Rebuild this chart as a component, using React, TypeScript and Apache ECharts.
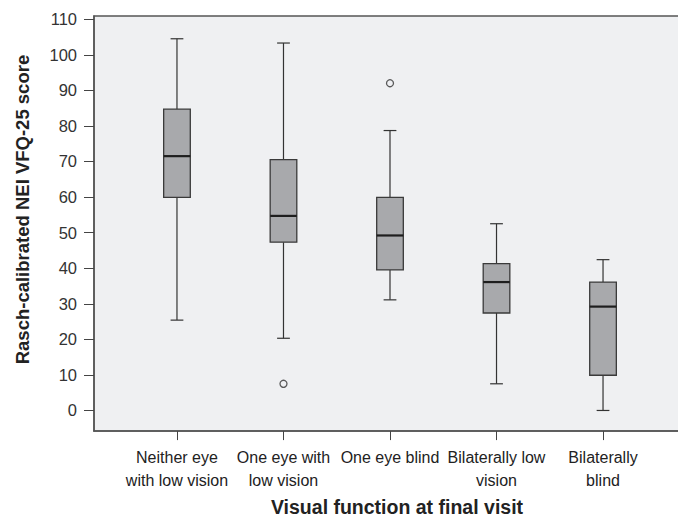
import React, { useEffect, useRef } from "react";
import * as echarts from "echarts";

const categories = [
  "Neither eye\nwith low vision",
  "One eye with\nlow vision",
  "One eye blind",
  "Bilaterally low\nvision",
  "Bilaterally\nblind",
];
const whiskerLow = [25.4, 20.3, 31.1, 7.5, 0.0];
const q1 = [59.9, 47.3, 39.5, 27.4, 9.9];
const median = [71.5, 54.7, 49.2, 36.1, 29.2];
const q3 = [84.7, 70.5, 59.9, 41.3, 36.1];
const whiskerHigh = [104.5, 103.3, 78.7, 52.5, 42.4];
const outliers: [number, number][] = [
  [2, 7.5],
  [3, 92.0],
];
const yTicks = [0, 10, 20, 30, 40, 50, 60, 70, 80, 90, 100, 110];

export default function App() {
  const ref = useRef<HTMLDivElement>(null);
  useEffect(() => {
    if (!ref.current) return;
    const chart = echarts.init(ref.current, undefined, { renderer: "svg" });
    const positions = categories.map((_, i) => i + 1);
    const boxData = positions.map((p, i) => [
      p,
      whiskerLow[i],
      q1[i],
      median[i],
      q3[i],
      whiskerHigh[i],
    ]);
    const font = "'Liberation Sans', Arial, Helvetica, sans-serif";
    chart.setOption({
      animation: false,
      backgroundColor: "#ffffff",
      grid: {
        left: 94,
        top: 16,
        bottom: 90,
        right: -7,
        show: true,
        backgroundColor: "#eff0f2",
        borderColor: "#555555",
        borderWidth: 1.5,
      },
      xAxis: {
        type: "value",
        min: 0.221,
        max: 5.779,
        name: "Visual function at final visit",
        nameLocation: "middle",
        nameGap: 64,
        nameTextStyle: {
          fontFamily: font,
          fontWeight: "bold",
          fontSize: 19.5,
          color: "#222",
          padding: [0, 0, 0, 14],
        },
        splitLine: { show: false },
        axisLine: { show: true, onZero: false, lineStyle: { color: "#555", width: 1.5 } },
        axisTick: {
          show: true,
          length: 9,
          customValues: positions,
          lineStyle: { color: "#444", width: 1 },
        },
        axisLabel: {
          customValues: positions,
          formatter: (v: number) => categories[Math.round(v) - 1] ?? "",
          margin: 15,
          fontFamily: font,
          fontSize: 16,
          lineHeight: 23,
          color: "#222",
        },
      },
      yAxis: {
        type: "value",
        min: -5.8,
        max: 110.9,
        name: "Rasch-calibrated NEI VFQ-25 score",
        nameLocation: "middle",
        nameGap: 62,
        nameTextStyle: {
          fontFamily: font,
          fontWeight: "bold",
          fontSize: 18.5,
          color: "#222",
          padding: [0, 0, 0, 28],
        },
        splitLine: { show: false },
        axisLine: { show: true, onZero: false, lineStyle: { color: "#555", width: 1.5 } },
        axisTick: {
          show: true,
          length: 10,
          customValues: yTicks,
          lineStyle: { color: "#444", width: 1 },
        },
        axisLabel: {
          customValues: yTicks,
          margin: 17,
          fontFamily: font,
          fontSize: 16.5,
          color: "#333",
        },
      },
      series: [
        {
          type: "custom",
          data: boxData,
          renderItem: (params: any, api: any) => {
            const x = api.value(0);
            const lo = api.coord([x, api.value(1)]);
            const b1 = api.coord([x, api.value(2)]);
            const md = api.coord([x, api.value(3)]);
            const b3 = api.coord([x, api.value(4)]);
            const hi = api.coord([x, api.value(5)]);
            const bw = api.size([0.25, 0])[0];
            const cw = bw * 0.48;
            const cx = lo[0];
            const whiskerStyle = { stroke: "#333", lineWidth: 1.2 };
            return {
              type: "group",
              children: [
                {
                  type: "line",
                  shape: { x1: cx, y1: hi[1], x2: cx, y2: b3[1] },
                  style: whiskerStyle,
                },
                {
                  type: "line",
                  shape: { x1: cx, y1: b1[1], x2: cx, y2: lo[1] },
                  style: whiskerStyle,
                },
                {
                  type: "line",
                  shape: { x1: cx - cw / 2, y1: hi[1], x2: cx + cw / 2, y2: hi[1] },
                  style: whiskerStyle,
                },
                {
                  type: "line",
                  shape: { x1: cx - cw / 2, y1: lo[1], x2: cx + cw / 2, y2: lo[1] },
                  style: whiskerStyle,
                },
                {
                  type: "rect",
                  shape: { x: cx - bw / 2, y: b3[1], width: bw, height: b1[1] - b3[1] },
                  style: { fill: "#a8a9ac", stroke: "#3a3a3a", lineWidth: 1.3 },
                },
                {
                  type: "line",
                  shape: { x1: cx - bw / 2, y1: md[1], x2: cx + bw / 2, y2: md[1] },
                  style: { stroke: "#1e1e1e", lineWidth: 2.2 },
                },
              ],
            };
          },
        },
        {
          type: "scatter",
          data: outliers,
          symbol: "circle",
          symbolSize: 7,
          itemStyle: { color: "#eff0f2", borderColor: "#333", borderWidth: 1.3 },
        },
      ],
    });
    return () => chart.dispose();
  }, []);
  return <div ref={ref} style={{ width: 686, height: 522, margin: -8 }} />;
}
